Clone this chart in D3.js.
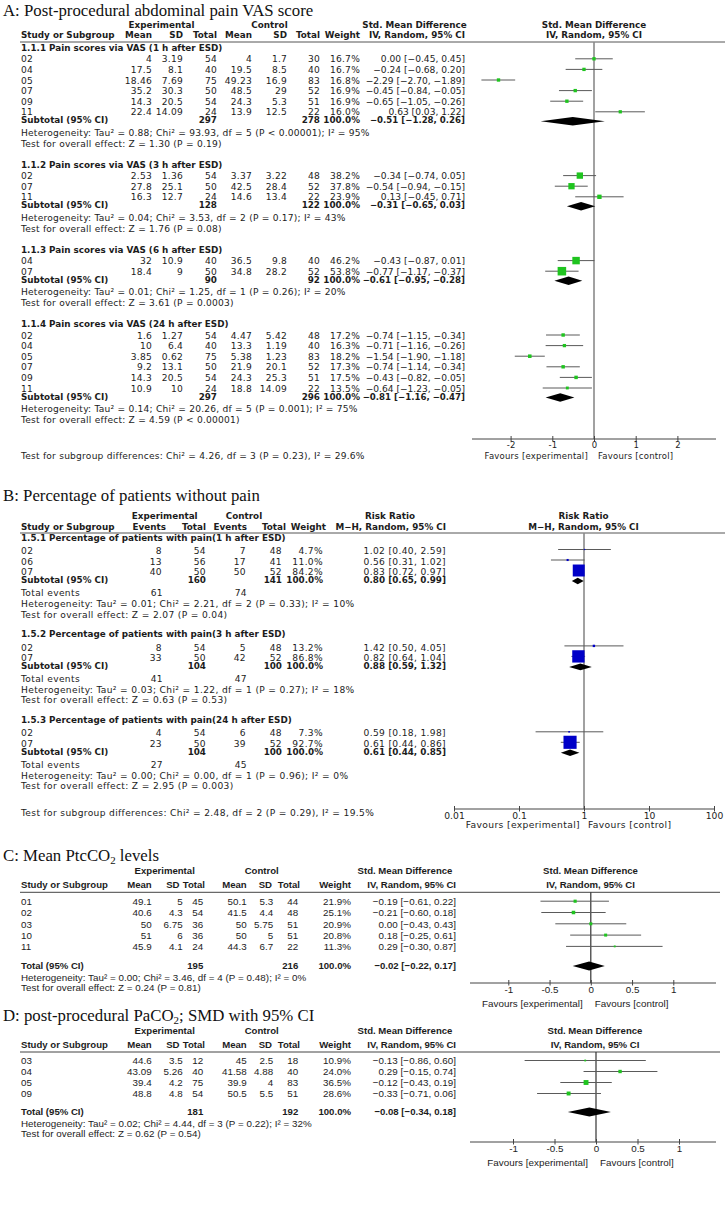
<!DOCTYPE html>
<html><head><meta charset="utf-8">
<script src="https://cdn.jsdelivr.net/npm/d3@7"></script>
<style>body{margin:0;background:#fff}</style>
</head><body><script>
// ================= Panel A data =================
const aGroups = ["1.1.1 Pain scores via VAS (1 h after ESD)","1.1.2 Pain scores via VAS (3 h after ESD)","1.1.3 Pain scores via VAS (6 h after ESD)","1.1.4 Pain scores via VAS (24 h after ESD)"];
const aGroupOf = [0,0,0,0,0,0,1,1,1,2,2,3,3,3,3,3,3];
const aStudy = ["02","04","05","07","09","11","02","07","11","04","07","02","04","05","07","09","11"];
const aExpMean = [4,17.5,18.46,35.2,14.3,22.4,2.53,27.8,16.3,32,18.4,1.6,10,3.85,9.2,14.3,10.9];
const aExpSD = [3.19,8.1,7.69,30.3,20.5,14.09,1.36,25.1,12.7,10.9,9,1.27,6.4,0.62,13.1,20.5,10];
const aExpN = [54,40,75,50,54,24,54,50,24,40,50,54,40,75,50,54,24];
const aCtlMean = [4,19.5,49.23,48.5,24.3,13.9,3.37,42.5,14.6,36.5,34.8,4.47,13.3,5.38,21.9,24.3,18.8];
const aCtlSD = [1.7,8.5,16.9,29,5.3,12.5,3.22,28.4,13.4,9.8,28.2,5.42,1.19,1.23,20.1,25.3,14.09];
const aCtlN = [30,40,83,52,51,22,48,52,22,40,52,48,40,83,52,51,22];
const aWeight = [16.7,16.7,16.8,16.9,16.9,16.0,38.2,37.8,23.9,46.2,53.8,17.2,16.3,18.2,17.3,17.5,13.5];
const aSMD = [0.00,-0.24,-2.29,-0.45,-0.65,0.63,-0.34,-0.54,0.13,-0.43,-0.77,-0.74,-0.71,-1.54,-0.74,-0.43,-0.64];
const aLo = [-0.45,-0.68,-2.70,-0.84,-1.05,0.03,-0.74,-0.94,-0.45,-0.87,-1.17,-1.15,-1.16,-1.90,-1.14,-0.82,-1.23];
const aHi = [0.45,0.20,-1.89,-0.05,-0.26,1.22,0.05,-0.15,0.71,0.01,-0.37,-0.34,-0.26,-1.18,-0.34,-0.05,-0.05];
const aSubExpN = [297,128,90,297];
const aSubCtlN = [278,122,92,296];
const aSubSMD = [-0.51,-0.31,-0.61,-0.81];
const aSubLo = [-1.28,-0.65,-0.95,-1.16];
const aSubHi = [0.26,0.03,-0.28,-0.47];
const aHet = ["Heterogeneity: Tau² = 0.88; Chi² = 93.93, df = 5 (P < 0.00001); I² = 95%",
  "Heterogeneity: Tau² = 0.04; Chi² = 3.53, df = 2 (P = 0.17); I² = 43%",
  "Heterogeneity: Tau² = 0.01; Chi² = 1.25, df = 1 (P = 0.26); I² = 20%",
  "Heterogeneity: Tau² = 0.14; Chi² = 20.26, df = 5 (P = 0.001); I² = 75%"];
const aEffect = ["Test for overall effect: Z = 1.30 (P = 0.19)","Test for overall effect: Z = 1.76 (P = 0.08)",
  "Test for overall effect: Z = 3.61 (P = 0.0003)","Test for overall effect: Z = 4.59 (P < 0.00001)"];
const aSubgroupTest = "Test for subgroup differences: Chi² = 4.26, df = 3 (P = 0.23), I² = 29.6%";
const aTicks = [-2,-1,0,1,2];

// ================= Panel B data =================
const bGroups = ["1.5.1 Percentage of patients with pain(1 h after ESD)","1.5.2 Percentage of patients with pain(3 h after ESD)","1.5.3 Percentage of patients with pain(24 h after ESD)"];
const bGroupOf = [0,0,0,1,1,2,2];
const bStudy = ["02","06","07","02","07","02","07"];
const bExpEv = [8,13,40,8,33,4,23];
const bExpN = [54,56,50,54,50,54,50];
const bCtlEv = [7,17,50,5,42,6,39];
const bCtlN = [48,41,52,48,52,48,52];
const bWeight = [4.7,11.0,84.2,13.2,86.8,7.3,92.7];
const bRR = [1.02,0.56,0.83,1.42,0.82,0.59,0.61];
const bLo = [0.40,0.31,0.72,0.50,0.64,0.18,0.44];
const bHi = [2.59,1.02,0.97,4.05,1.04,1.98,0.86];
const bSubExpN = [160,104,104];
const bSubCtlN = [141,100,100];
const bSubRR = [0.80,0.88,0.61];
const bSubLo = [0.65,0.59,0.44];
const bSubHi = [0.99,1.32,0.85];
const bTotExpEv = [61,41,27];
const bTotCtlEv = [74,47,45];
const bHet = ["Heterogeneity: Tau² = 0.01; Chi² = 2.21, df = 2 (P = 0.33); I² = 10%",
  "Heterogeneity: Tau² = 0.03; Chi² = 1.22, df = 1 (P = 0.27); I² = 18%",
  "Heterogeneity: Tau² = 0.00; Chi² = 0.00, df = 1 (P = 0.96); I² = 0%"];
const bEffect = ["Test for overall effect: Z = 2.07 (P = 0.04)","Test for overall effect: Z = 0.63 (P = 0.53)","Test for overall effect: Z = 2.95 (P = 0.003)"];
const bSubgroupTest = "Test for subgroup differences: Chi² = 2.48, df = 2 (P = 0.29), I² = 19.5%";
const bTicks = [0.01,0.1,1,10,100];
const bTickLabels = ["0.01","0.1","1","10","100"];

// ================= Panel C data =================
const cStudy = ["01","02","03","10","11"];
const cExpMean = [49.1,40.6,50,51,45.9];
const cExpSD = [5,4.3,6.75,6,4.1];
const cExpN = [45,54,36,36,24];
const cCtlMean = [50.1,41.5,50,50,44.3];
const cCtlSD = [5.3,4.4,5.75,5,6.7];
const cCtlN = [44,48,51,51,22];
const cWeight = [21.9,25.1,20.9,20.8,11.3];
const cSMD = [-0.19,-0.21,0.00,0.18,0.29];
const cLo = [-0.61,-0.60,-0.43,-0.25,-0.30];
const cHi = [0.22,0.18,0.43,0.61,0.87];
const cTotal = {expN:195, ctlN:216, smd:-0.02, lo:-0.22, hi:0.17};
const cHet = "Heterogeneity: Tau² = 0.00; Chi² = 3.46, df = 4 (P = 0.48); I² = 0%";
const cEffect = "Test for overall effect: Z = 0.24 (P = 0.81)";
const cTicks = [-1,-0.5,0,0.5,1];

// ================= Panel D data =================
const dStudy = ["03","04","05","09"];
const dExpMean = [44.6,43.09,39.4,48.8];
const dExpSD = [3.5,5.26,4.2,4.8];
const dExpN = [12,40,75,54];
const dCtlMean = [45,41.58,39.9,50.5];
const dCtlSD = [2.5,4.88,4,5.5];
const dCtlN = [18,40,83,51];
const dWeight = [10.9,24.0,36.5,28.6];
const dSMD = [-0.13,0.29,-0.12,-0.33];
const dLo = [-0.86,-0.15,-0.43,-0.71];
const dHi = [0.60,0.74,0.19,0.06];
const dTotal = {expN:181, ctlN:192, smd:-0.08, lo:-0.34, hi:0.18};
const dHet = "Heterogeneity: Tau² = 0.02; Chi² = 4.44, df = 3 (P = 0.22); I² = 32%";
const dEffect = "Test for overall effect: Z = 0.62 (P = 0.54)";
const dTicks = [-1,-0.5,0,0.5,1];

// ================= drawing =================
const W = 725, H = 1213;
const svg = d3.select("body").append("svg").attr("width", W).attr("height", H).style("display","block");
svg.append("rect").attr("width", W).attr("height", H).attr("fill", "#fff");
const SANS = "'DejaVu Sans', Verdana, sans-serif";
const SANS2 = "'Liberation Sans', Arial, sans-serif";
const SERIF = "'Liberation Serif', 'Times New Roman', serif";
const INK = "#1c1c1c";
const GREEN = "#1fc41f", BLUE = "#0000c8";
let FF = SANS, FS = 9, FSB = 9, LS = 0;

function T(x, y, s, o = {}) {
  const ls = o.ls !== undefined ? o.ls : (o.b ? 0 : LS);
  return svg.append("text").attr("x", x).attr("y", y).attr("dy", "0.35em")
    .attr("font-family", o.ff || FF).attr("font-size", o.fs || (o.b ? FSB : FS))
    .attr("font-weight", o.b ? "bold" : null)
    .attr("letter-spacing", ls || null)
    .attr("text-anchor", o.a || "start").attr("fill", o.c || INK).text(s);
}
function L(x1, y1, x2, y2, c = "#555", w = 1) {
  svg.append("line").attr("x1", x1).attr("y1", y1).attr("x2", x2).attr("y2", y2)
    .attr("stroke", c).attr("stroke-width", w);
}
function title(y, size, parts) {
  const t = svg.append("text").attr("x", 3).attr("y", y).attr("dy", "0.35em")
    .attr("font-family", SERIF).attr("font-size", size).attr("fill", "#111");
  parts.forEach(p => {
    const s = t.append("tspan").text(p.t);
    if (p.sub) s.attr("dy", 3.5).attr("font-size", size * 0.65);
    if (p.after) s.attr("dy", -3.5);
  });
}
const f2m = v => d3.format(".2f")(v).replace("-", "–");
const f2 = v => d3.format(".2f")(v);
const pct = v => d3.format(".1f")(v) + "%";

function marker(x, y, lo, hi, est, side, color) {
  L(x(lo), y, x(hi), y, "#5a5a5a", 1);
  svg.append("rect").attr("x", x(est) - side / 2).attr("y", y - side / 2)
    .attr("width", side).attr("height", side).attr("fill", color);
}
function diamond(x, y, lo, hi, est, h) {
  svg.append("polygon").attr("fill", "#000")
    .attr("points", [[x(lo), y], [x(est), y - h], [x(hi), y], [x(est), y + h]].map(p => p.join(",")).join(" "));
}
function axis(x, y, ticks, labels, x0, x1, fs, favY, zero, gapL, gapR) {
  const g = svg.append("g").attr("transform", `translate(0,${y})`)
    .call(d3.axisBottom(x).tickValues(ticks).tickFormat((d, i) => labels[i]).tickSizeOuter(0).tickSize(3));
  g.select(".domain").remove();
  g.selectAll(".tick line").attr("y1", -3).attr("y2", 2.5).attr("stroke", "#444");
  g.selectAll(".tick text").attr("y", 3).attr("font-family", FF).attr("font-size", fs).attr("fill", INK);
  L(x0, y, x1, y, "#444", 1);
  T(x(zero) - gapL, favY, "Favours [experimental]", {a: "end", fs});
  T(x(zero) + gapR, favY, "Favours [control]", {fs});
}

// ---------------- Panel A ----------------
FF = SANS; FS = 9.1; FSB = 8.8; LS = 0.22;
title(10, 16.8, [{t: "A: Post-procedural abdominal pain VAS score"}]);
const aColR = [152, 183, 217, 252, 287, 320, 360, 465];
T(161.5, 25, "Experimental", {a: "middle", b: true});
T(269.5, 25, "Control", {a: "middle", b: true});
T(414.5, 25, "Std. Mean Difference", {a: "middle", b: true});
T(21, 35, "Study or Subgroup", {b: true});
["Mean", "SD", "Total", "Mean", "SD", "Total", "Weight", "IV, Random, 95% CI"].forEach((h, i) => T(aColR[i], 35, h, {a: "end", b: true}));
T(594, 25, "Std. Mean Difference", {a: "middle", b: true});
T(594, 35, "IV, Random, 95% CI", {a: "middle", b: true});
L(20, 42, 725, 42, "#555", 1);
const xA = d3.scaleLinear().domain([-2, 2]).range([510.6, 677.4]);
L(xA(0), 42, xA(0), 439, "#8a8a8a", 1.6);
let y = 48;
aGroups.forEach((gname, gi) => {
  T(21, y, gname, {b: true});
  y += 11.3;
  const idx = aStudy.map((s, i) => i).filter(i => aGroupOf[i] === gi);
  idx.forEach((i, k) => {
    if (k > 0) y += 10.6;
    T(21, y, aStudy[i]);
    [aExpMean[i], aExpSD[i], aExpN[i], aCtlMean[i], aCtlSD[i], aCtlN[i]].forEach((v, c) => T(aColR[c], y, String(v), {a: "end"}));
    T(aColR[6], y, pct(aWeight[i]), {a: "end"});
    T(aColR[7], y, `${f2m(aSMD[i])} [${f2m(aLo[i])}, ${f2m(aHi[i])}]`, {a: "end", ls: 0});
    marker(xA, y - 0.5, aLo[i], aHi[i], aSMD[i], 1 + 0.14 * aWeight[i], GREEN);
  });
  y += 8;
  T(21, y, "Subtotal (95% CI)", {b: true});
  T(aColR[2], y, String(aSubExpN[gi]), {a: "end", b: true});
  T(aColR[5], y, String(aSubCtlN[gi]), {a: "end", b: true});
  T(aColR[6], y, "100.0%", {a: "end", b: true});
  T(aColR[7], y, `${f2m(aSubSMD[gi])} [${f2m(aSubLo[gi])}, ${f2m(aSubHi[gi])}]`, {a: "end", b: true, fs: 8.6});
  diamond(xA, y + 1, aSubLo[gi], aSubHi[gi], aSubSMD[gi], 4.2);
  y += 12.3;
  T(21, y, aHet[gi]);
  y += 11.2;
  T(21, y, aEffect[gi]);
  y += 21;
});
axis(xA, 439, aTicks, aTicks.map(String), 472, 716, 8.5, 456, 0, 6, 4);
T(21, 456, aSubgroupTest);

// ---------------- Panel B ----------------
FF = SANS; FS = 9.1; FSB = 8.8; LS = 0.35;
title(495, 16.8, [{t: "B: Percentage of patients without pain"}]);
const bColR = [162, 206, 246, 282, 323, 446];
const bHdrR = [166, 206, 247, 286, 326, 446];
T(164.7, 516, "Experimental", {a: "middle", b: true});
T(244, 516, "Control", {a: "middle", b: true});
T(390, 516, "Risk Ratio", {a: "middle", b: true});
T(21, 527, "Study or Subgroup", {b: true});
["Events", "Total", "Events", "Total", "Weight", "M−H, Random, 95% CI"].forEach((h, i) => T(bHdrR[i], 527, h, {a: "end", b: true}));
T(583.5, 516, "Risk Ratio", {a: "middle", b: true});
T(583.5, 527, "M−H, Random, 95% CI", {a: "middle", b: true});
L(20, 533, 725, 533, "#555", 1);
const xB = d3.scaleLog().domain([0.01, 100]).range([454, 714]);
L(xB(1), 533, xB(1), 809, "#8a8a8a", 1.6);
y = 538;
bGroups.forEach((gname, gi) => {
  T(21, y, gname, {b: true});
  y += 13;
  const idx = bStudy.map((s, i) => i).filter(i => bGroupOf[i] === gi);
  idx.forEach((i, k) => {
    if (k > 0) y += 10.5;
    T(21, y, bStudy[i]);
    [bExpEv[i], bExpN[i], bCtlEv[i], bCtlN[i]].forEach((v, c) => T(bColR[c], y, String(v), {a: "end"}));
    T(bColR[4], y, pct(bWeight[i]), {a: "end"});
    T(bColR[5], y, `${f2(bRR[i])} [${f2(bLo[i])}, ${f2(bHi[i])}]`, {a: "end"});
    marker(xB, y - 1.5, bLo[i], bHi[i], bRR[i], 0.6 + 0.135 * bWeight[i], BLUE);
  });
  y += 8;
  T(21, y, "Subtotal (95% CI)", {b: true});
  T(bColR[1], y, String(bSubExpN[gi]), {a: "end", b: true});
  T(bColR[3], y, String(bSubCtlN[gi]), {a: "end", b: true});
  T(bColR[4], y, "100.0%", {a: "end", b: true});
  T(bColR[5], y, `${f2(bSubRR[gi])} [${f2(bSubLo[gi])}, ${f2(bSubHi[gi])}]`, {a: "end", b: true});
  diamond(xB, y + 1, bSubLo[gi], bSubHi[gi], bSubRR[gi], 3.3);
  y += 12.7;
  T(21, y, "Total events");
  T(163, y, String(bTotExpEv[gi]), {a: "end"});
  T(247, y, String(bTotCtlEv[gi]), {a: "end"});
  y += 11.2;
  T(21, y, bHet[gi]);
  y += 10.5;
  T(21, y, bEffect[gi]);
  y += 20;
});
axis(xB, 809, bTicks, bTickLabels, 454, 714, 9.2, 825, 1, 4, 4);
T(21, 813, bSubgroupTest);

// ---------------- Panel C & D (shared renderer) ----------------
function smdPanel(o) {
  const dataR = [151.7, 182.7, 203.3, 246.7, 273.3, 298.3, 351, 456];
  const hdrR = [151.7, 179.5, 205, 246.7, 272, 300, 351, 456];
  T(164.7, o.h1, "Experimental", {a: "middle", b: true});
  T(261.7, o.h1, "Control", {a: "middle", b: true});
  T(405, o.h1, "Std. Mean Difference", {a: "middle", b: true});
  T(21, o.h2, "Study or Subgroup", {b: true});
  ["Mean", "SD", "Total", "Mean", "SD", "Total", "Weight", "IV, Random, 95% CI"].forEach((h, i) => T(hdrR[i], o.h2, h, {a: "end", b: true}));
  T(o.pc, o.h1, "Std. Mean Difference", {a: "middle", b: true});
  T(o.pc, o.h2, "IV, Random, 95% CI", {a: "middle", b: true});
  L(20, o.line, 720, o.line, "#444", 1);
  const x = o.x;
  L(x(0), o.line, x(0), o.axisY, "#333", 1.2);
  o.study.forEach((s, i) => {
    const yy = o.r0 + i * o.step;
    T(21, yy, s);
    [o.em[i], o.es[i], o.en[i], o.cm[i], o.cs[i], o.cn[i]].forEach((v, c) => T(dataR[c], yy, String(v), {a: "end"}));
    T(dataR[6], yy, pct(o.w[i]), {a: "end"});
    T(dataR[7], yy, `${f2(o.est[i])} [${f2(o.lo[i])}, ${f2(o.hi[i])}]`, {a: "end"});
    marker(x, yy - 0.5, o.lo[i], o.hi[i], o.est[i], 0.5 + 0.12 * o.w[i], GREEN);
  });
  const t = o.tot;
  T(21, o.ty, "Total (95% CI)", {b: true});
  T(dataR[2], o.ty, String(t.expN), {a: "end", b: true});
  T(dataR[5], o.ty, String(t.ctlN), {a: "end", b: true});
  T(dataR[6], o.ty, "100.0%", {a: "end", b: true});
  T(dataR[7], o.ty, `${f2(t.smd)} [${f2(t.lo)}, ${f2(t.hi)}]`, {a: "end", b: true});
  diamond(x, o.ty, t.lo, t.hi, t.smd, 4.5);
  T(21, o.ty + 11.5, o.het);
  T(21, o.ty + 21.8, o.eff);
  axis(x, o.axisY, o.ticks, o.ticks.map(String), 470, 716, 9.8, o.axisY + 21, 0, 8, 4);
}

FF = SANS2; FS = 9.8; FSB = 9.6; LS = 0.05;
title(855, 16.8, [{t: "C: Mean PtcCO"}, {t: "2", sub: true}, {t: " levels", after: true}]);
smdPanel({h1: 870.7, h2: 884.7, line: 892.3, r0: 901.7, step: 11.3, ty: 966, axisY: 983, pc: 590.5,
  x: d3.scaleLinear().domain([-1, 1]).range([508.3, 673.3]),
  study: cStudy, em: cExpMean, es: cExpSD, en: cExpN, cm: cCtlMean, cs: cCtlSD, cn: cCtlN,
  w: cWeight, est: cSMD, lo: cLo, hi: cHi, tot: cTotal, het: cHet, eff: cEffect, ticks: cTicks});

title(1015, 16.8, [{t: "D: post-procedural PaCO"}, {t: "2", sub: true}, {t: "; SMD with 95% CI", after: true}]);
smdPanel({h1: 1031, h2: 1045, line: 1052, r0: 1061, step: 11, ty: 1112, axisY: 1142, pc: 595,
  x: d3.scaleLinear().domain([-1, 1]).range([513, 679]),
  study: dStudy, em: dExpMean, es: dExpSD, en: dExpN, cm: dCtlMean, cs: dCtlSD, cn: dCtlN,
  w: dWeight, est: dSMD, lo: dLo, hi: dHi, tot: dTotal, het: dHet, eff: dEffect, ticks: dTicks});
</script></body></html>
